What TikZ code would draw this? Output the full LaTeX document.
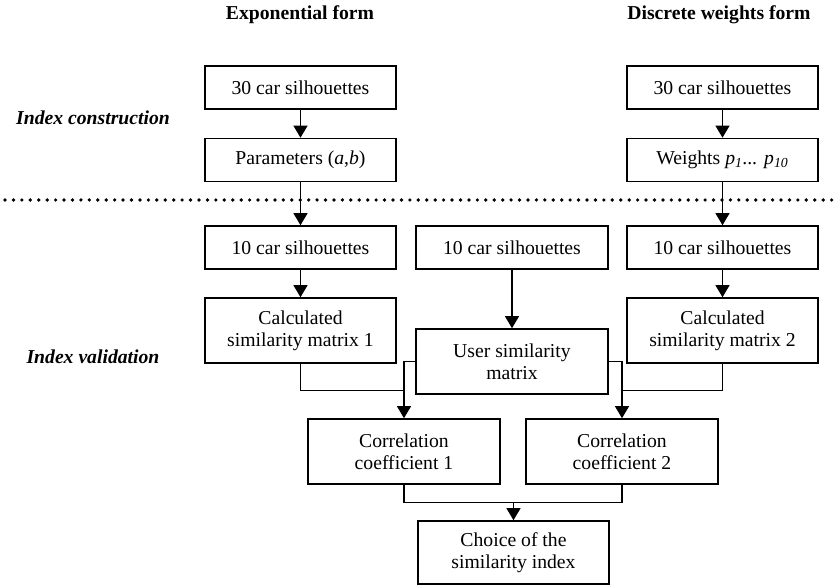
\documentclass[tikz,border=0pt]{standalone}
\usepackage{fontspec}
\setmainfont{Liberation Serif}
\usetikzlibrary{arrows.meta,calc,positioning}
\tikzset{
  box/.style={
    draw=black,
    line width=0.9pt,
    minimum width=3.83cm,
    minimum height=0.86cm,
    inner sep=2pt,
    align=center,
    font=\fontsize{11.2}{12.6}\selectfont
  },
  tallbox/.style={box, minimum height=1.30cm},
  wire/.style={
    draw=black,
    line width=0.7pt,
    -{Triangle[length=2.4mm,width=2.8mm]}
  },
  link/.style={draw=black, line width=0.7pt},
  heading/.style={font=\fontsize{11.2}{12.6}\selectfont\bfseries},
  phase/.style={font=\fontsize{11.2}{12.6}\selectfont\bfseries\itshape},
  divider/.style={
    draw=black,
    line width=2.1pt,
    line cap=round,
    dash pattern=on 0pt off 4.8pt
  }
}
\begin{document}
\begin{tikzpicture}
  \path[use as bounding box] (-8.34,-5.85) rectangle (8.34,5.85);

  \node[heading] (exphead) at (-2.34,5.55) {Exponential form};
  \node[heading] (dwhead)  at ( 6.04,5.55) {Discrete weights form};

  \node[phase] (construct) at (-6.48, 3.49) {Index construction};
  \node[phase] (validate)  at (-6.48,-1.29) {Index validation};

  % construction part
  \node[box] (exptrain) at (-2.33,4.10) {30 car silhouettes};
  \node[box] (params)   at (-2.33,2.65) {Parameters (\textit{a},\textit{b})};
  \node[box] (dwtrain)  at ( 6.11,4.10) {30 car silhouettes};
  \node[box] (weights)  at ( 6.11,2.65)
    {Weights \textit{p\textsubscript{1}... p\textsubscript{10}}};

  \coordinate (divleft)  at (-8.24,1.85);
  \coordinate (divright) at ( 8.34,1.85);
  \draw[divider] (divleft) -- (divright);

  % validation part
  \node[box] (exptest)  at (-2.33,0.90) {10 car silhouettes};
  \node[box] (usertest) at ( 1.90,0.90) {10 car silhouettes};
  \node[box] (dwtest)   at ( 6.11,0.90) {10 car silhouettes};

  \node[tallbox] (calcone) at (-2.33,-0.76) {Calculated\\similarity matrix 1};
  \node[tallbox] (user)    at ( 1.90,-1.38) {User similarity\\matrix};
  \node[tallbox] (calctwo) at ( 6.11,-0.76) {Calculated\\similarity matrix 2};

  \node[tallbox] (corrone) at (-0.26,-3.18) {Correlation\\coefficient 1};
  \node[tallbox] (corrtwo) at ( 4.10,-3.18) {Correlation\\coefficient 2};

  \node[tallbox, minimum height=1.26cm] (choice) at (1.93,-5.20)
    {Choice of the\\similarity index};

  \draw[wire] (exptrain.south) -- (params.north);
  \draw[wire] (dwtrain.south) -- (weights.north);
  \draw[wire] (params.south) -- (exptest.north);
  \draw[wire] (weights.south) -- (dwtest.north);

  \draw[wire] (exptest.south) -- (calcone.north);
  \draw[wire] (usertest.south) -- (user.north);
  \draw[wire] (dwtest.south) -- (calctwo.north);

  \coordinate (joinone) at ($(corrone.north)+(0,0.56)$);
  \coordinate (jointwo) at ($(corrtwo.north)+(0,0.56)$);
  \draw[wire] (user.west) -| (corrone.north);
  \draw[wire] (user.east) -| (corrtwo.north);
  \draw[link] (calcone.south) |- (joinone);
  \draw[link] (calctwo.south) |- (jointwo);

  \coordinate (joinchoice) at ($(choice.north)+(0,0.36)$);
  \draw[link] (corrone.south) |- (joinchoice) -| (corrtwo.south);
  \draw[wire] (joinchoice) -- (choice.north);
\end{tikzpicture}
\end{document}
